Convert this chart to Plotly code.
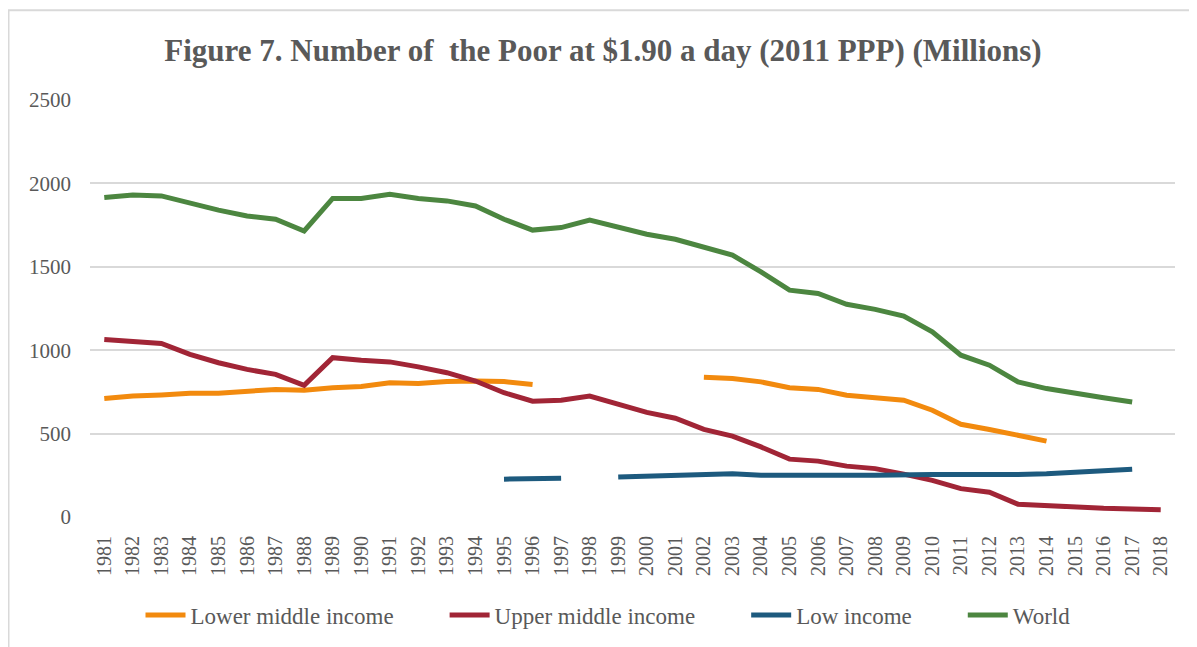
import plotly.graph_objects as go

years = [str(y) for y in range(1981, 2019)]

lower_middle = [710, 725, 732, 742, 742, 752, 765, 760, 775, 782, 805, 800, 812, 815, 812, 795,
                None, None, None, None, None,
                838, 830, 810, 775, 765, 730, 715, 700, 640, 556, 525, 490, 455,
                None, None, None, None]

upper_middle = [1064, 1055, 1040, 975, 925, 885, 855, 789, 955, 940, 930, 900, 865, 815, 745, 694,
                700, 725, 675, 627, 592, 525, 485, 420, 347, 335, 305, 290, 257, 220, 170, 148,
                77, 67, 57, 52, 48, 44]

low_income = [None] * 14 + [227, 230, 233, None, 240, 245, 243, 250, 260, 250, 248, 248, 250, 250,
                            255, 255, 255, 252, 255, 260, 270, 282, 287, None]

world = [1915, 1930, 1925, 1880, 1840, 1805, 1785, 1715, 1910, 1910, 1935, 1910, 1895, 1865, 1785,
         1720, 1735, 1780, 1740, 1695, 1665, 1620, 1570, 1470, 1360, 1340, 1275, 1245, 1205, 1110,
         970, 910, 810, 770, 740, 715, 690, None]

series = [
    ("Lower middle income", lower_middle, "#F28A0E"),
    ("Upper middle income", upper_middle, "#A12536"),
    ("Low income", low_income, "#1D5A7E"),
    ("World", world, "#4C8640"),
]

FONT = "Liberation Serif"
GREY = "#595959"
PAD = "\u00a0" * 8

# page body has an 8px margin; figure drawn at page (8, 8)
W, H = 1189, 639
ML, MR, MT, MB = 82, 22, 92, 129
PW, PH = W - ML - MR, H - MT - MB

fig = go.Figure()
for i, (name, vals, col) in enumerate(series):
    label = name + (PAD if i < len(series) - 1 else "")
    fig.add_trace(go.Scatter(
        x=years, y=vals, name=label, mode="lines",
        line=dict(color=col, width=5),
        connectgaps=False,
    ))

fig.update_layout(
    template="none",
    width=W, height=H,
    paper_bgcolor="white", plot_bgcolor="white",
    margin=dict(l=ML, r=MR, t=MT, b=MB),
    font=dict(family=FONT, color=GREY, size=20),
    title=dict(
        text="<b>Figure 7. Number of  the Poor at $1.90 a day (2011 PPP) (Millions)</b>",
        x=(603 - 8) / W, xanchor="center", y=1 - (50 - 8) / H, yanchor="middle",
        font=dict(family=FONT, size=31, color=GREY),
    ),
    xaxis=dict(
        type="category", range=[-0.5, len(years) - 0.5], tickangle=-90,
        showgrid=False, zeroline=False, showline=False, ticks="",
        tickfont=dict(family=FONT, size=20, color=GREY), ticklabelstandoff=14,
    ),
    yaxis=dict(
        range=[0, 2500], tickvals=[0, 500, 1000, 1500, 2000, 2500],
        showgrid=True, gridcolor="#D9D9D9", gridwidth=1.5, zeroline=False,
        showline=False, ticks="", tickfont=dict(family=FONT, size=21, color=GREY),
        ticklabelstandoff=18,
    ),
    legend=dict(
        orientation="h", x=(608 - 8 - ML) / PW, xanchor="center",
        y=(PH - (615 - 8 - MT)) / PH, yanchor="middle",
        font=dict(family=FONT, size=23, color=GREY), itemwidth=40, traceorder="normal",
        bgcolor="rgba(0,0,0,0)",
    ),
    showlegend=True,
)

# outer chart border
fig.add_shape(type="rect", xref="paper", yref="paper",
              x0=(0.5 - ML) / PW, x1=(W + 20 - ML) / PW,
              y0=(PH - (H + 20 - MT)) / PH, y1=(PH - (2 - MT)) / PH,
              line=dict(color="#D9D9D9", width=2), fillcolor="rgba(0,0,0,0)", layer="below")

fig.write_html("out.html")
